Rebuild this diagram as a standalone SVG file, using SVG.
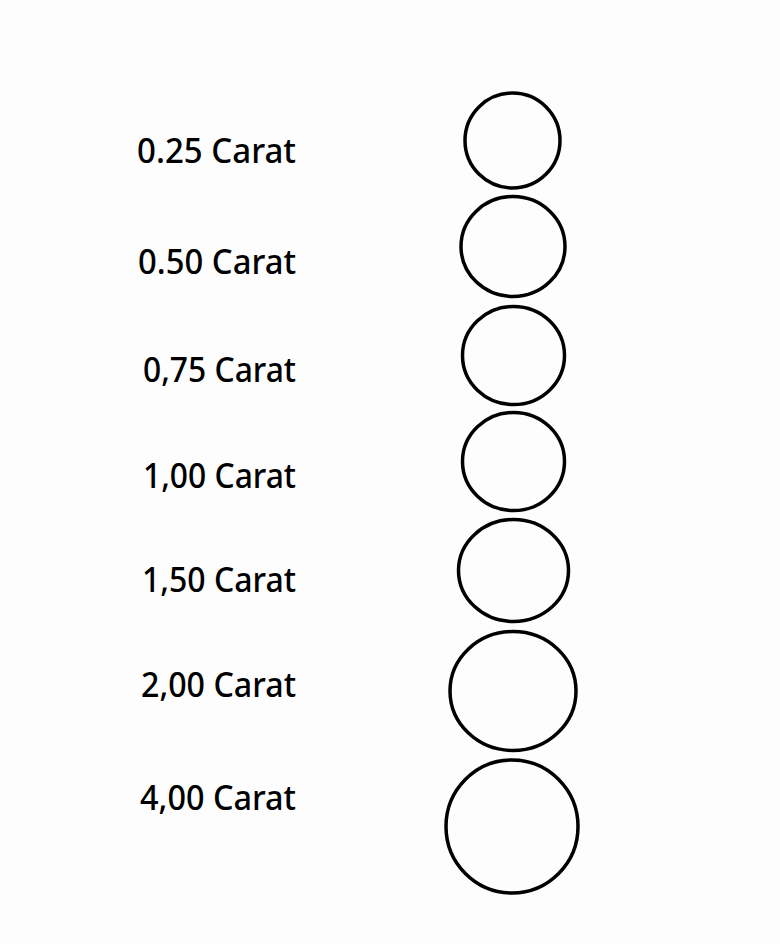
<svg xmlns="http://www.w3.org/2000/svg" width="780" height="944" viewBox="0 0 780 944">
<style>
.lbl{font-family:"Noto Sans","Open Sans","DejaVu Sans",sans-serif;font-size:35px;font-weight:500;fill:#000;text-anchor:end}
.c{fill:none;stroke:#000;stroke-width:3.5}
</style>
<rect width="780" height="944" fill="#fdfdfd"/>
<g id="n1"><text class="lbl" x="296" y="163" textLength="159" lengthAdjust="spacingAndGlyphs">0.25 Carat</text><ellipse class="c" cx="512.5" cy="140.5" rx="47.5" ry="47.5"/></g>
<g id="n2"><text class="lbl" x="296" y="274" textLength="158" lengthAdjust="spacingAndGlyphs">0.50 Carat</text><ellipse class="c" cx="513" cy="246.5" rx="52" ry="50"/></g>
<g id="n3"><text class="lbl" x="296" y="382" textLength="153" lengthAdjust="spacingAndGlyphs">0,75 Carat</text><ellipse class="c" cx="513.5" cy="355.5" rx="51" ry="49"/></g>
<g id="n4"><text class="lbl" x="296" y="488" textLength="153" lengthAdjust="spacingAndGlyphs">1,00 Carat</text><ellipse class="c" cx="513.5" cy="461.5" rx="51" ry="49"/></g>
<g id="n5"><text class="lbl" x="296" y="592" textLength="154" lengthAdjust="spacingAndGlyphs">1,50 Carat</text><ellipse class="c" cx="513.5" cy="570.5" rx="55" ry="51"/></g>
<g id="n6"><text class="lbl" x="296" y="697" textLength="155" lengthAdjust="spacingAndGlyphs">2,00 Carat</text><ellipse class="c" cx="513" cy="691" rx="63" ry="59.5"/></g>
<g id="n7"><text class="lbl" x="296" y="810" textLength="156" lengthAdjust="spacingAndGlyphs">4,00 Carat</text><ellipse class="c" cx="512" cy="826.5" rx="66" ry="66.5"/></g>
<g id="connectors"/>
</svg>
